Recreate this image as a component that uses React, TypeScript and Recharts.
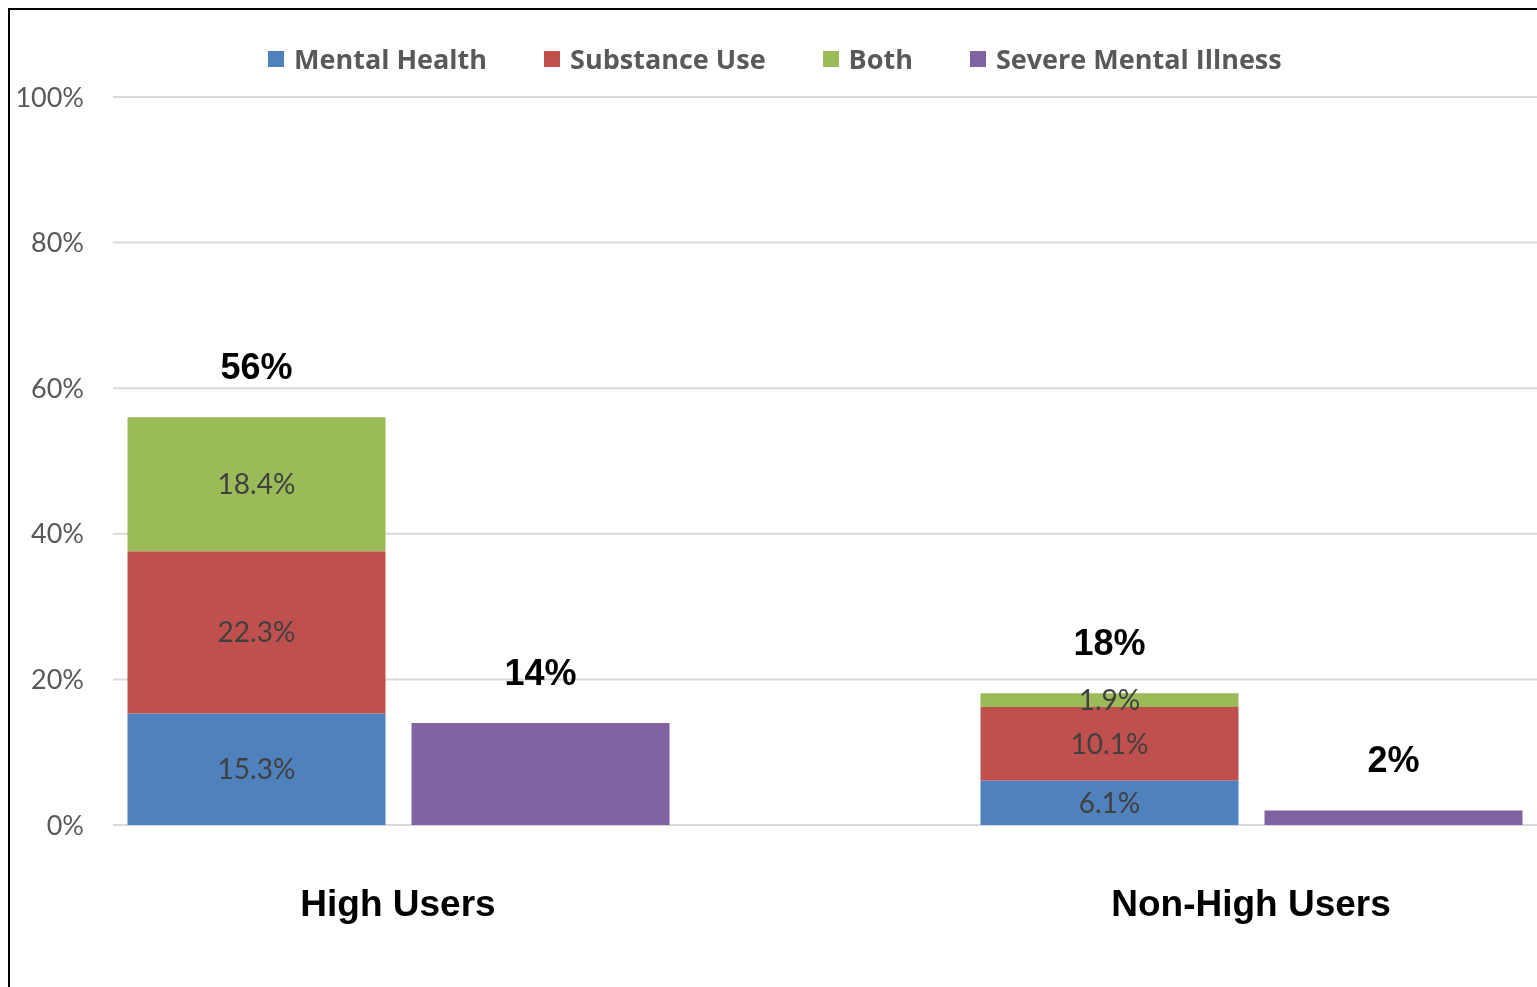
import React from "react";
import { BarChart, Bar, XAxis, YAxis, CartesianGrid, LabelList } from "recharts";

const categories = ["High Users", "Non-High Users"];
const mentalHealth = [15.3, 6.1];
const substanceUse = [22.3, 10.1];
const both = [18.4, 1.9];
const severeMentalIllness = [14, 2];
const stackTotals = [56, 18];
const yTicks = [0, 20, 40, 60, 80, 100];

const series = [
  { key: "Mental Health", color: "#4f81bd" },
  { key: "Substance Use", color: "#c0504d" },
  { key: "Both", color: "#9bbb59" },
  { key: "Severe Mental Illness", color: "#8064a2" },
];

const chartData = categories.map((name, i) => ({
  name,
  "Mental Health": mentalHealth[i],
  "Substance Use": substanceUse[i],
  Both: both[i],
  "Severe Mental Illness": severeMentalIllness[i],
  total: stackTotals[i],
}));

const innerLabel = { fill: "#404040", fontSize: 28, fontFamily: "Lato" };

function TotalLabel(props: any) {
  const { x, y, width, value } = props;
  return (
    <text
      x={x + width / 2}
      y={y - 38}
      textAnchor="middle"
      fontFamily="'Liberation Sans', Arial, sans-serif"
      fontWeight="bold"
      fontSize={36}
      fill="#000"
    >
      {`${value}%`}
    </text>
  );
}

// legend sits on top of the chart, like the Excel one
function LegendBox() {
  return (
    <div
      style={{
        position: "absolute",
        left: 258,
        top: 30,
        display: "flex",
        alignItems: "center",
        fontFamily: "'Open Sans'",
        fontWeight: 700,
        fontSize: 27,
        color: "#595959",
        whiteSpace: "nowrap",
      }}
    >
      {series.map((s) => (
        <div key={s.key} style={{ display: "flex", alignItems: "center", marginRight: 57 }}>
          <span style={{ width: 16, height: 16, background: s.color, marginRight: 10, display: "inline-block" }} />
          <span>{s.key}</span>
        </div>
      ))}
    </div>
  );
}

export default function App() {
  return (
    <div
      style={{
        position: "fixed",
        left: 8,
        top: 8,
        width: 1529,
        height: 979,
        boxSizing: "border-box",
        borderTop: "2px solid #000",
        borderLeft: "2px solid #000",
        overflow: "hidden",
      }}
    >
      <BarChart
        width={1527}
        height={977}
        data={chartData}
        margin={{ top: 87, right: 0, left: 0, bottom: 0 }}
        barGap={26}
      >
        <CartesianGrid horizontal vertical={false} stroke="#d9d9d9" strokeWidth={2} />
        <XAxis
          dataKey="name"
          axisLine={false}
          tickLine={false}
          tickSize={0}
          tickMargin={65}
          height={162}
          padding={{ left: -141.5, right: -140.5 }}
          tick={{ fill: "#000", fontSize: 37, fontWeight: "bold", fontFamily: "'Liberation Sans', Arial, sans-serif" }}
        />
        <YAxis
          domain={[0, 100]}
          ticks={yTicks}
          axisLine={false}
          tickLine={false}
          tickSize={0}
          tickMargin={29}
          width={103}
          tickFormatter={(v) => `${v}%`}
          tick={{ fill: "#595959", fontSize: 27, fontFamily: "Lato" }}
        />
        <Bar dataKey="Mental Health" stackId="a" fill="#4f81bd" barSize={258} isAnimationActive={false}>
          <LabelList dataKey="Mental Health" position="center" formatter={(v: any) => `${v}%`} style={innerLabel} />
        </Bar>
        <Bar dataKey="Substance Use" stackId="a" fill="#c0504d" barSize={258} isAnimationActive={false}>
          <LabelList dataKey="Substance Use" position="center" formatter={(v: any) => `${v}%`} style={innerLabel} />
        </Bar>
        <Bar dataKey="Both" stackId="a" fill="#9bbb59" barSize={258} isAnimationActive={false}>
          <LabelList dataKey="Both" position="center" formatter={(v: any) => `${v}%`} style={innerLabel} />
          <LabelList dataKey="total" content={<TotalLabel />} />
        </Bar>
        <Bar dataKey="Severe Mental Illness" fill="#8064a2" barSize={258} isAnimationActive={false}>
          <LabelList dataKey="Severe Mental Illness" content={<TotalLabel />} />
        </Bar>
      </BarChart>
      <LegendBox />
    </div>
  );
}
